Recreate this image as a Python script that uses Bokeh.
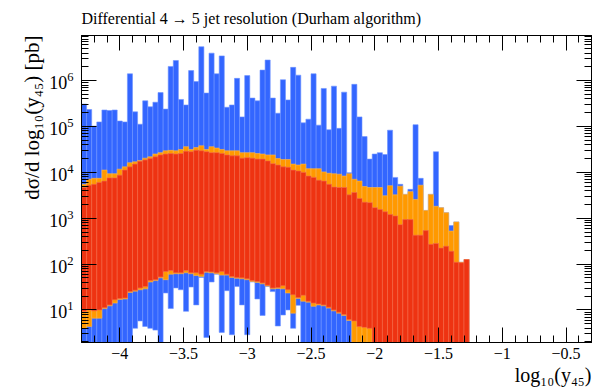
import numpy as np
from bokeh.plotting import figure
from bokeh.models import (Range1d, LinearAxis, LogAxis, SingleIntervalTicker, LogTicker, Title,
                          CustomJSTickFormatter)
from bokeh.embed import file_html
from bokeh.resources import INLINE

# bin edges of log10(y45)
bin_edges = [-4.30,-4.26,-4.22,-4.18,-4.14,-4.10,-4.06,-4.02,-3.98,-3.94,-3.90,-3.86,-3.82,-3.78,-3.74,-3.70,
             -3.66,-3.62,-3.58,-3.54,-3.50,-3.46,-3.42,-3.38,-3.34,-3.30,-3.26,-3.22,-3.18,-3.14,-3.10,-3.06,
             -3.02,-2.98,-2.94,-2.90,-2.86,-2.82,-2.78,-2.74,-2.70,-2.66,-2.62,-2.58,-2.54,-2.50,-2.46,-2.42,
             -2.38,-2.34,-2.30,-2.26,-2.22,-2.18,-2.14,-2.10,-2.06,-2.02,-1.98,-1.94,-1.90,-1.86,-1.82,-1.78,
             -1.74,-1.70,-1.66,-1.62,-1.58,-1.54,-1.50,-1.46,-1.42,-1.38,-1.34,-1.30,-1.26]

# band limits, as log10 of dsigma/dlog10(y45) in pb
blue_hi_exp = [5.49,5.37,5.01,5.10,5.36,5.35,5.36,5.12,5.10,6.15,
               5.32,5.05,5.56,5.43,5.53,5.74,5.38,6.31,6.44,5.59,
               5.47,6.22,5.98,6.74,5.73,6.60,6.15,6.54,5.42,5.47,
               6.05,5.21,6.11,5.62,5.56,6.23,6.45,5.62,5.29,6.02,
               5.58,6.29,6.12,5.08,5.16,6.15,5.03,5.83,4.93,5.88,
               4.96,5.75,3.99,5.92,5.21,4.78,4.29,4.40,4.43,4.39,
               4.92,3.89,3.74,3.52,3.63,5.04,3.87,3.17,3.52,4.45,
               3.23,3.12,2.84,2.92,2.04,2.10]
blue_lo_exp = [0,0,0,0,0,0,0,0,0,0,
               0.60,0.76,0.64,0.60,0.56,0,1.37,1.03,1.48,1.44,
               0.97,1.50,1.11,1.71,0.40,1.61,1.78,0.51,1.42,0.46,
               1.51,1.11,0.46,1.61,1.24,0.88,1.51,1.40,0.65,0.89,
               1.00,0.60,1.10,0,0,0,0,0,0,0,
               0,0,0,0,0,0,0,0,0,0,
               0,0,0,0,0,0,0,0,0,0,
               0,0,0,0,0,0]
orange_hi_exp = [3.74,3.85,3.87,3.87,4.05,3.97,3.97,4.07,4.12,4.21,
                 4.23,4.26,4.31,4.34,4.40,4.43,4.47,4.48,4.47,4.50,
                 4.56,4.50,4.54,4.58,4.50,4.56,4.53,4.50,4.47,4.47,
                 4.47,4.43,4.43,4.43,4.41,4.40,4.38,4.38,4.30,4.28,
                 4.28,4.18,4.16,4.18,4.08,4.08,4.08,4.01,3.98,3.97,
                 3.96,3.92,3.97,3.85,3.81,3.69,3.67,3.67,3.67,3.49,
                 3.71,3.51,3.70,3.52,3.58,3.41,3.72,3.17,3.52,3.26,
                 3.23,3.12,2.72,2.92,2.04,2.10]
orange_lo_exp = [0.60,0.64,0.82,0.82,1.03,1.09,1.15,1.23,1.24,1.38,
                 1.41,1.44,1.46,1.61,1.64,1.70,1.66,1.78,1.79,1.79,
                 1.81,1.79,1.75,1.73,1.82,1.81,1.79,1.76,1.76,1.71,
                 1.69,1.68,1.66,1.62,1.60,1.57,1.52,1.46,1.47,1.46,
                 1.37,0.93,1.25,1.19,1.17,1.08,1.11,1.09,1.04,0.98,
                 0.93,0.88,0.77,0,0,0,0,0,0,0,
                 0,0,0,0,0,0,0,0,0,0,
                 0,0,0,0,0,0]
red_hi_exp = [3.67,3.72,3.74,3.78,3.81,3.88,3.88,3.94,4.05,4.12,
              4.18,4.24,4.27,4.30,4.34,4.38,4.40,4.41,4.40,4.41,
              4.46,4.45,4.48,4.47,4.45,4.43,4.43,4.41,4.38,4.36,
              4.36,4.31,4.32,4.31,4.29,4.29,4.25,4.19,4.16,4.12,
              4.11,4.05,4.03,4.00,3.92,3.89,3.83,3.81,3.74,3.68,
              3.67,3.67,3.51,3.56,3.43,3.35,3.34,3.23,3.19,3.14,
              3.08,3.05,2.86,2.97,2.97,2.63,2.63,2.73,2.43,2.45,
              2.35,2.39,2.28,2.04,2.03,2.10]
red_lo_exp = [0.97,1.00,0.98,1.00,1.05,1.11,1.22,1.25,1.26,1.40,
              1.43,1.48,1.51,1.64,1.66,1.72,1.84,1.86,1.81,1.81,
              1.86,1.81,1.81,1.78,1.84,1.83,1.81,1.84,1.78,1.73,
              1.71,1.70,1.68,1.64,1.62,1.59,1.54,1.48,1.49,1.53,
              1.44,1.33,1.27,1.32,1.19,1.15,1.13,1.11,1.06,1.00,
              0.95,0.90,0.79,0.76,0.64,0.62,0.60,0,0,0,
              0,0,0,0,0,0,0,0,0,0,
              0,0,0,0,0,0]

title_text = "Differential 4 \u2192 5 jet resolution (Durham algorithm)"
x_label = "log\u2081\u2080(y\u2084\u2085)"
y_label = "d\u03c3/d log\u2081\u2080(y\u2084\u2085) [pb]"

FONT = "Liberation Serif"

left = bin_edges[:-1]
right = bin_edges[1:]

p = figure(width=592, height=391, output_backend="svg", toolbar_location=None,
           x_range=Range1d(-4.3, -0.3), y_range=Range1d(1.95, 9.66e6),
           y_axis_type="log", x_axis_location=None, y_axis_location=None,
           min_border_left=81, min_border_right=1, min_border_top=35, min_border_bottom=49)
p.grid.visible = False
p.background_fill_color = "white"
p.border_fill_color = "white"
p.outline_line_color = "black"
p.outline_line_width = 1

series = [
    (blue_lo_exp, blue_hi_exp, "#3366ff", "#6f94ff"),
    (orange_lo_exp, orange_hi_exp, "#ff9900", "#ffb84d"),
    (red_lo_exp, red_hi_exp, "#ee3311", "#f46a4f"),
]
for lo, hi, col, edge in series:
    p.quad(left=left, right=right,
           bottom=np.power(10.0, np.array(lo)), top=np.power(10.0, np.array(hi)),
           fill_color=col, line_color=edge, line_width=0.6)

def style_axis(ax, labels=True, size="16px"):
    ax.major_tick_in = 15
    ax.major_tick_out = 0
    ax.minor_tick_in = 7
    ax.minor_tick_out = 0
    ax.axis_line_color = "black"
    ax.major_tick_line_color = "black"
    ax.minor_tick_line_color = "black"
    if labels:
        ax.major_label_text_font = FONT
        ax.major_label_text_font_size = size
        ax.major_label_text_color = "black"
    else:
        ax.formatter = CustomJSTickFormatter(code="return ''")
        ax.major_label_text_font_size = "1px"
        ax.major_label_text_color = None
        ax.major_label_standoff = 0

xb = LinearAxis(ticker=SingleIntervalTicker(interval=0.5, num_minor_ticks=5))
style_axis(xb, size="16px")
xb.major_label_standoff = 5
p.add_layout(xb, "below")

xt = LinearAxis(ticker=SingleIntervalTicker(interval=0.5, num_minor_ticks=5))
style_axis(xt, labels=False)
p.add_layout(xt, "above")

yl = LogAxis(ticker=LogTicker(num_minor_ticks=10))
style_axis(yl, size="18px")
yl.major_label_standoff = 8
p.add_layout(yl, "left")

yr = LogAxis(ticker=LogTicker(num_minor_ticks=10))
style_axis(yr, labels=False)
p.add_layout(yr, "right")

p.title = Title(text=title_text, align="left", vertical_align="top", text_font=FONT,
                text_font_size="16px", text_font_style="normal", text_color="black", standoff=14)

p.add_layout(Title(text=x_label, align="right", text_font=FONT, text_font_size="20px",
                   text_font_style="normal", text_color="black", standoff=0), "below")
p.add_layout(Title(text=y_label, align="right", text_font=FONT, text_font_size="21px",
                   text_font_style="normal", text_color="black", standoff=6), "left")

open("out.html", "w").write(file_html(p, INLINE))
